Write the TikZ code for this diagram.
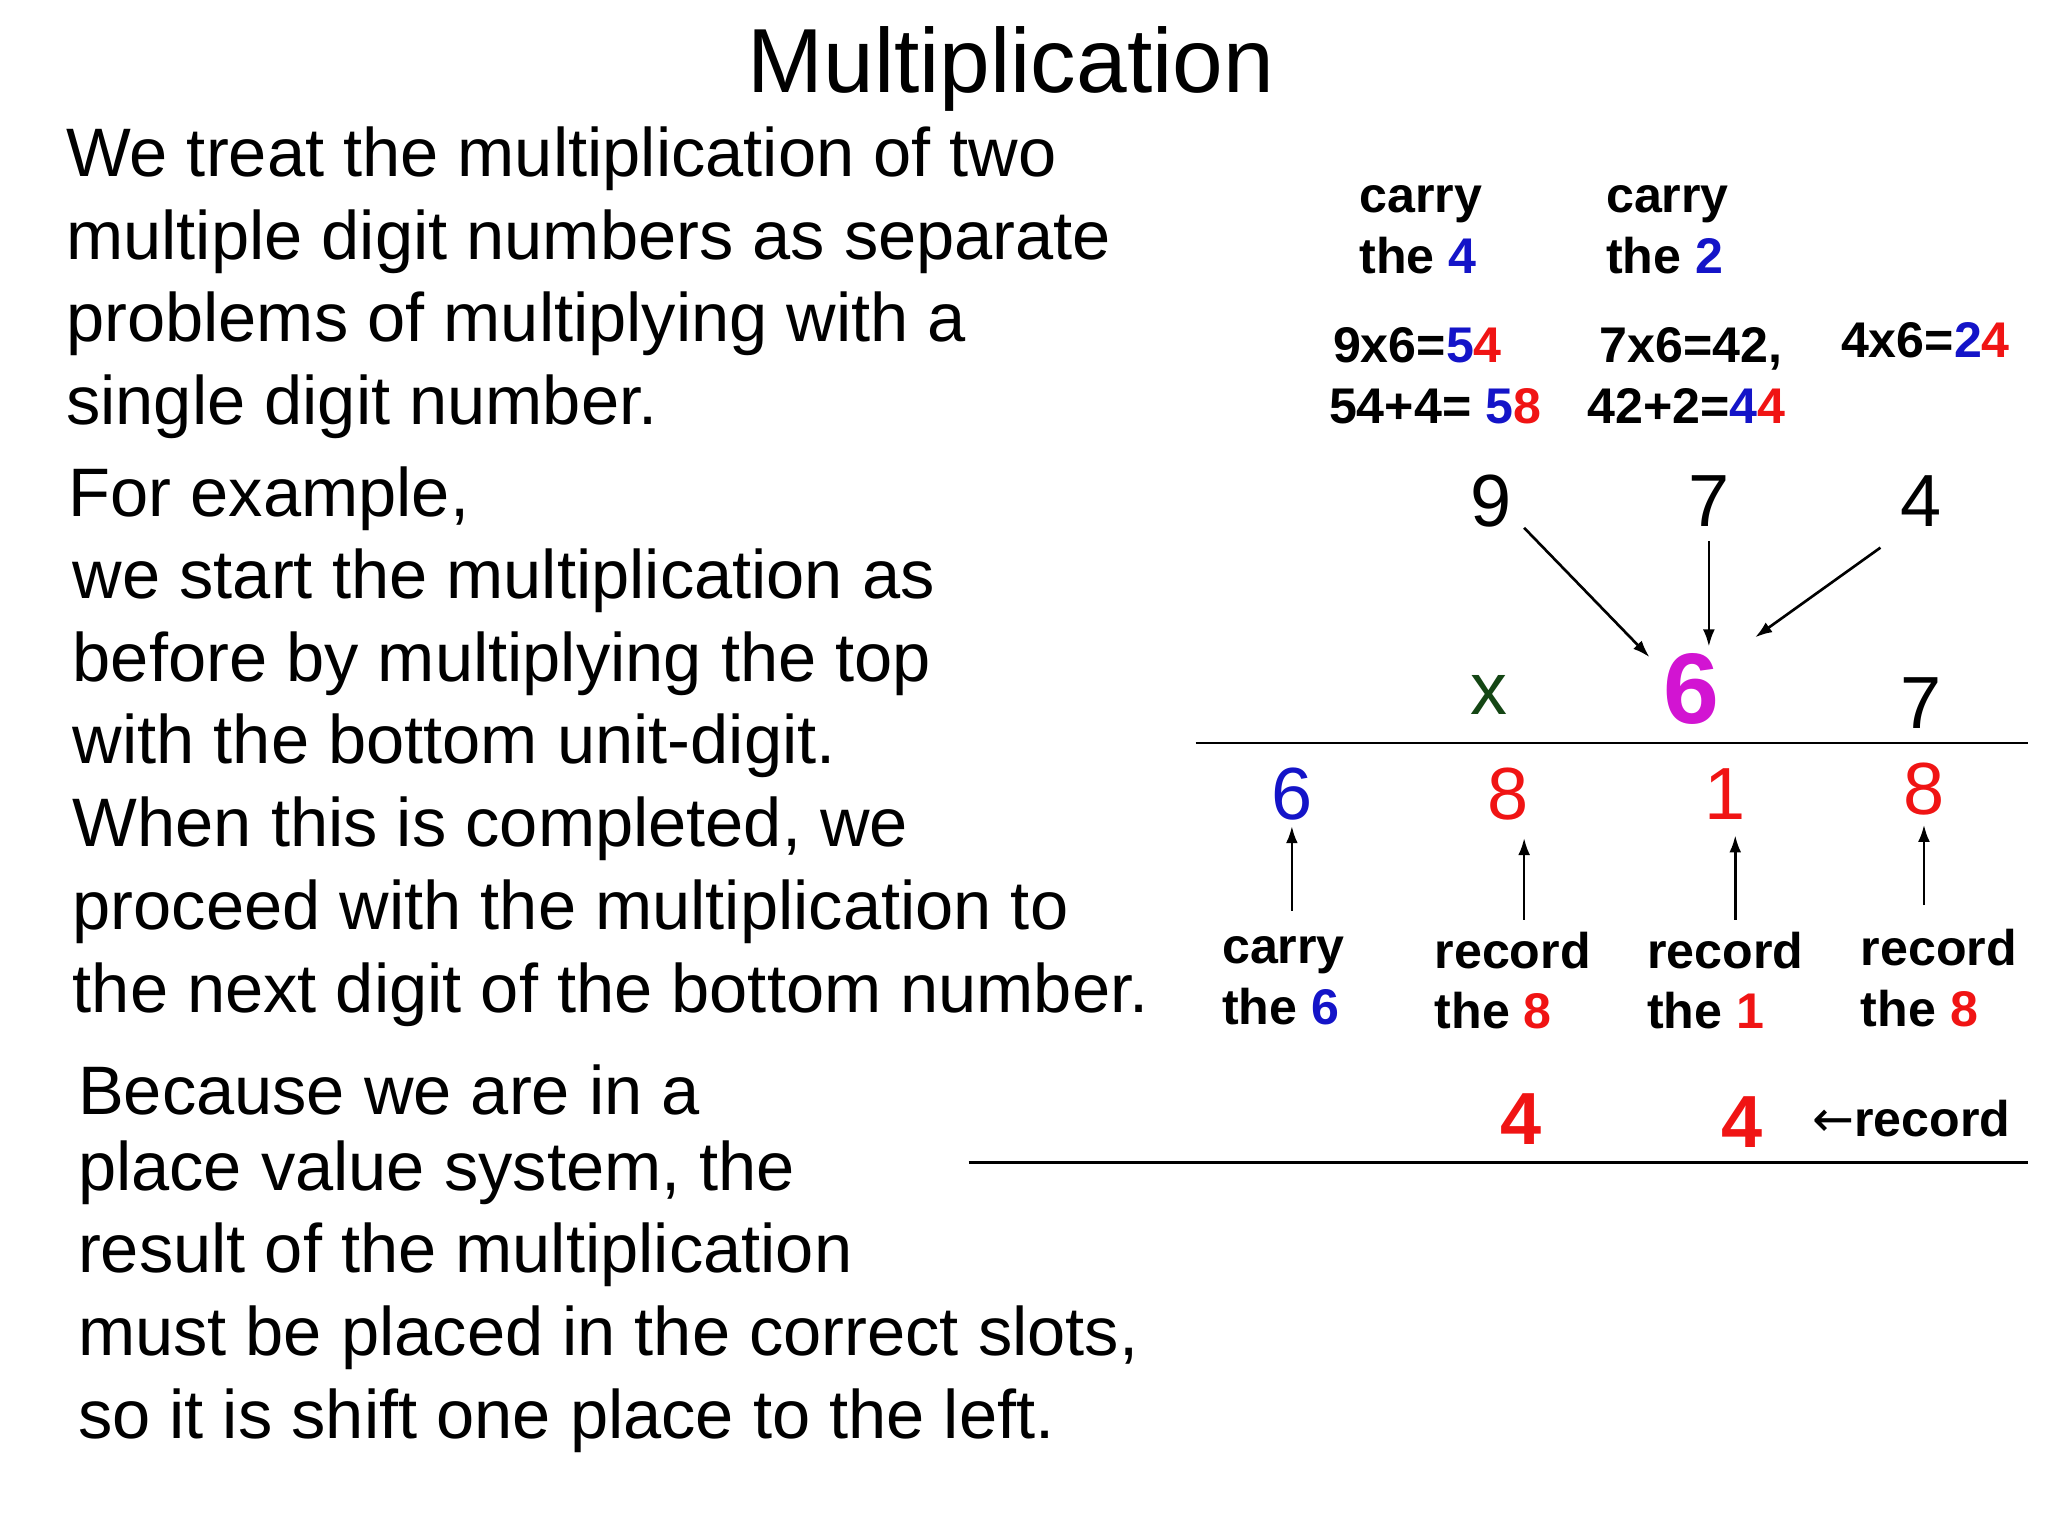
\documentclass[tikz,border=0pt]{standalone}
\usepackage{fontspec}
\setmainfont{Liberation Sans}
\newfontfamily\dejavu{DejaVu Sans}
\usetikzlibrary{arrows.meta}
\begin{document}
\begin{tikzpicture}[x=1pt,y=-1pt,
  body/.style={anchor=west,inner sep=0pt,font=\fontsize{52}{62}\selectfont},
  lab/.style={anchor=west,inner sep=0pt,align=left,font=\fontsize{38}{46}\selectfont\bfseries},
  dig/.style={inner sep=0pt,font=\fontsize{56}{60}\selectfont},
  arr/.style={-{Latex[length=13pt,width=9pt]},line width=2pt}]
\definecolor{bl}{RGB}{20,20,200}
\definecolor{rd}{RGB}{240,20,20}
\definecolor{mg}{RGB}{210,20,210}
\definecolor{dg}{RGB}{20,70,20}
\useasboundingbox (0,0) rectangle (1552,1164);
\node[inner sep=0pt,font=\fontsize{69}{72}\selectfont] (title) at (766,52) {Multiplication};
% left text
\foreach \t/\y [count=\i] in {We treat the multiplication of two/120,multiple digit numbers as separate/183,problems of multiplying with a/245,single digit number./308}
  \node[body] (a\i) at (50,\y) {\t};
\node[body] (b0) at (52,378) {For example,};
\foreach \t/\y [count=\i] in {we start the multiplication as/440,before by multiplying the top/503,with the bottom unit-digit./565,{When this is completed, we}/628,proceed with the multiplication to/691,the next digit of the bottom number./754}
  \node[body] (b\i) at (55,\y) {\t};
\foreach \t/\y [count=\i] in {Because we are in a/826,{place value system, the}/889,result of the multiplication/951,{must be placed in the correct slots,}/1014,so it is shift one place to the left./1077}
  \node[body] (c\i) at (59,\y) {\t};
% right top labels
\node[lab] (c4) at (1030,174) {carry\\the \textcolor{bl}{4}};
\node[lab] (c2) at (1217,174) {carry\\the \textcolor{bl}{2}};
\node[lab,anchor=north west] (e1) at (1007,248) {\hspace*{3pt}9x6=\textcolor{bl}{5}\textcolor{rd}{4}\\54+4= \textcolor{bl}{5}\textcolor{rd}{8}};
\node[lab,anchor=north west] (e2) at (1203,248) {\hspace*{9pt}7x6=42,\\42+2=\textcolor{bl}{4}\textcolor{rd}{4}};
\node[lab,anchor=north west] (e3) at (1395,244) {4x6=\textcolor{bl}{2}\textcolor{rd}{4}};
% digits
\node[dig] (t9) at (1130,380) {9};
\node[dig] (t7) at (1295,380) {7};
\node[dig] (t4) at (1456,380) {4};
\node[dig,text=dg] (x) at (1128,527) {x};
\node[dig,text=mg,font=\fontsize{76}{80}\selectfont\bfseries] (m6) at (1282,522) {6};
\node[dig] (m7) at (1456,533) {7};
\coordinate (l1a) at (906,563); \coordinate (l1b) at (1537,563);
\draw[line width=2pt] (l1a) -- (l1b);
\coordinate (f9) at (1155,400); \coordinate (g9) at (1250,498);
\coordinate (f7) at (1295,410); \coordinate (g7) at (1295,490);
\coordinate (f4) at (1425,415); \coordinate (g4) at (1330,483);
\draw[arr] (f9) -- (g9); \draw[arr] (f7) -- (g7); \draw[arr] (f4) -- (g4);
\node[dig,text=bl] (r1) at (979,602) {6};
\node[dig,text=rd] (r2) at (1143,602) {8};
\node[dig,text=rd] (r3) at (1307,602) {1};
\node[dig,text=rd] (r4) at (1458,598) {8};
\node[lab] (k1) at (926,743) {carry\\the \textcolor{bl}{6}};
\node[lab] (k2) at (1087,743) {record\\the \textcolor{rd}{8}};
\node[lab] (k3) at (1248,743) {record\\the \textcolor{rd}{1}};
\node[lab] (k4) at (1410,741) {record\\the \textcolor{rd}{8}};
\coordinate (p1) at (979,690); \coordinate (q1) at (979,626);
\coordinate (p2) at (1155,697); \coordinate (q2) at (1155,635);
\coordinate (p3) at (1315,697); \coordinate (q3) at (1315,633);
\coordinate (p4) at (1458,686); \coordinate (q4) at (1458,625);
\foreach \i in {1,2,3,4} \draw[arr] (p\i) -- (q\i);
\node[dig,text=rd,font=\fontsize{56}{60}\selectfont\bfseries] (s1) at (1153,848) {4};
\node[dig,text=rd,font=\fontsize{56}{60}\selectfont\bfseries] (s2) at (1320,850) {4};
\node[lab] (rec) at (1373,848) {{\dejavu\mdseries ←}record};
\coordinate (l2a) at (734,881); \coordinate (l2b) at (1537,881);
\draw[line width=2pt] (l2a) -- (l2b);
\end{tikzpicture}
\end{document}
